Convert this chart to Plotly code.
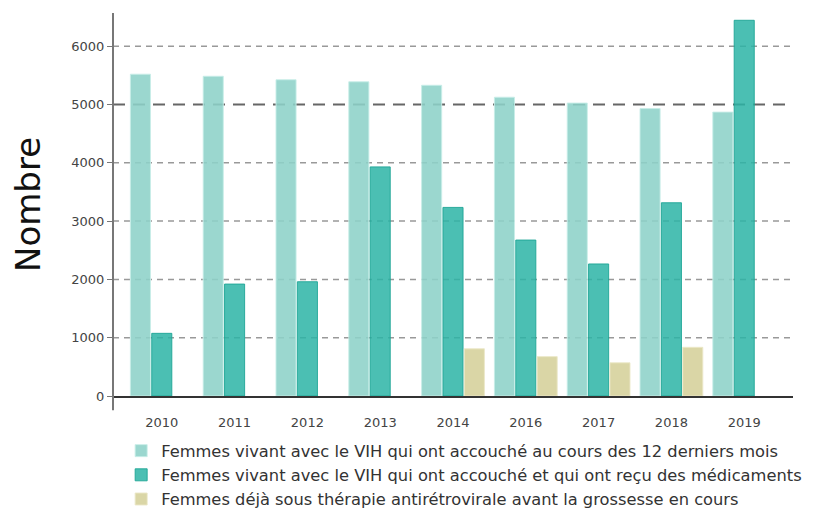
import plotly.graph_objects as go

years = ["2010", "2011", "2012", "2013", "2014", "2016", "2017", "2018", "2019"]
accouche = [5520, 5485, 5425, 5390, 5330, 5125, 5025, 4930, 4870]
medicaments = [1075, 1920, 1960, 3930, 3235, 2675, 2265, 3315, 6445]
deja_therapie = [None, None, None, None, 810, 675, 570, 835, None]
names = [
    "Femmes vivant avec le VIH qui ont accouché au cours des 12 derniers mois",
    "Femmes vivant avec le VIH qui ont accouché et qui ont reçu des médicaments antirétroviraux",
    "Femmes déjà sous thérapie antirétrovirale avant la grossesse en cours",
]
y_ticks = [0, 1000, 2000, 3000, 4000, 5000, 6000]
grid_values = [1000, 2000, 3000, 4000, 6000]
reference_value = 5000

fig = go.Figure()
fig.add_trace(go.Bar(x=years, y=accouche, name=names[0],
                     marker=dict(color="rgba(141,210,200,0.88)", line=dict(color="rgba(200,237,232,0.9)", width=1))))
fig.add_trace(go.Bar(x=years, y=medicaments, name=names[1],
                     marker=dict(color="rgba(43,180,166,0.85)", line=dict(color="rgba(30,165,150,0.9)", width=1))))
fig.add_trace(go.Bar(x=years, y=deja_therapie, name=names[2],
                     marker=dict(color="rgba(214,210,156,0.9)", line=dict(color="rgba(235,232,200,0.9)", width=1))))

for g in grid_values:
    fig.add_shape(type="line", xref="paper", yref="y", x0=0, x1=1, y0=g, y1=g,
                  line=dict(color="#999999", width=1.5, dash="6px,5px"), layer="below")
fig.add_shape(type="line", xref="paper", yref="y", x0=0, x1=0.99,
              y0=reference_value, y1=reference_value,
              line=dict(color="#666666", width=1.8, dash="12px,8px"), layer="below")
fig.add_shape(type="line", xref="paper", yref="paper", x0=0, x1=0, y0=-0.037, y1=1,
              line=dict(color="#777777", width=2))

fig.update_layout(
    width=825, height=514,
    margin=dict(l=105, r=40, t=5, b=126, autoexpand=False),
    paper_bgcolor="white", plot_bgcolor="white",
    barmode="group", bargap=0.12, bargroupgap=0.06,
    font=dict(family="DejaVu Sans", size=13, color="#444444"),
    showlegend=True,
    legend=dict(orientation="h", entrywidthmode="fraction", entrywidth=1,
                x=0.012, y=-0.098, xanchor="left", yanchor="top",
                font=dict(size=16.3, color="#333333"), tracegroupgap=0,
                bgcolor="rgba(0,0,0,0)"),
    xaxis=dict(type="category", range=[-0.67, 8.67], showgrid=False,
               showline=True, linecolor="#333333", linewidth=2,
               ticks="", tickfont=dict(size=13, color="#444444"), ticklabelstandoff=13),
    yaxis=dict(range=[0, 6570], tickvals=y_ticks,
               showgrid=False, zeroline=False, showline=False,
               ticks="outside", ticklen=5, tickcolor="#777777", tickwidth=1,
               tickfont=dict(size=13, color="#444444"),
               title=dict(text="Nombre", font=dict(size=34, color="#111111"), standoff=22)),
)

fig.write_html("out.html")
